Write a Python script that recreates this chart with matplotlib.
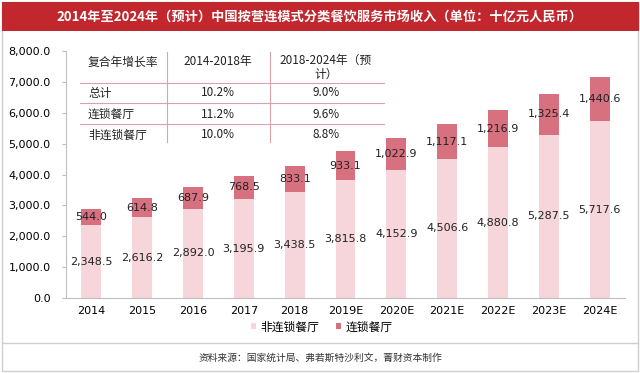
import matplotlib
matplotlib.use("Agg")
import matplotlib.pyplot as plt
from matplotlib.patches import Rectangle
from matplotlib.lines import Line2D

plt.rcParams['font.family'] = ['Noto Sans CJK SC', 'DejaVu Sans']

years = ['2014', '2015', '2016', '2017', '2018', '2019E', '2020E', '2021E', '2022E', '2023E', '2024E']
non_chain = [2348.5, 2616.2, 2892.0, 3195.9, 3438.5, 3815.8, 4152.9, 4506.6, 4880.8, 5287.5, 5717.6]
chain = [544.0, 614.8, 687.9, 768.5, 833.1, 933.1, 1022.9, 1117.1, 1216.9, 1325.4, 1440.6]
series_names = ['非连锁餐厅', '连锁餐厅']
yticks = [0, 1000, 2000, 3000, 4000, 5000, 6000, 7000, 8000]

title = '2014年至2024年（预计）中国按营连模式分类餐饮服务市场收入（单位：十亿元人民币）'
source = '资料来源：国家统计局、弗若斯特沙利文，菁财资本制作'

table_header = ['复合年增长率', '2014-2018年', '2018-2024年（预\n计）']
table_rows = [['总计', '10.2%', '9.0%'],
              ['连锁餐厅', '11.2%', '9.6%'],
              ['非连锁餐厅', '10.0%', '8.8%']]

c_light = '#F6D5DB'
c_dark = '#D7707F'
c_title = '#C1272D'
num_font = 'DejaVu Sans'

W, H = 640, 373
fig = plt.figure(figsize=(6.4, 3.73), dpi=100)

def fx(x): return x / W
def fy(y): return 1 - y / H

# border and banner
fig.patches.append(Rectangle((fx(2), fy(371)), fx(636), 369 / H, transform=fig.transFigure,
                             fill=False, edgecolor='#CFCFCF', linewidth=1.0))
fig.patches.append(Rectangle((fx(1.5), fy(31)), fx(637), 29 / H, transform=fig.transFigure,
                             facecolor=c_title, edgecolor='none'))
fig.text(0.5, fy(16.5), title, color='white', ha='center', va='center', fontsize=9.5, fontweight='bold')
fig.lines.append(Line2D([fx(2), fx(638)], [fy(343), fy(343)], transform=fig.transFigure,
                        color='#CFCFCF', linewidth=1.0))
fig.text(0.5, fy(358), source, ha='center', va='center', fontsize=7, color='#333333')

ax = fig.add_axes([fx(66), fy(298), fx(559), (298 - 51) / H])
x = list(range(len(years)))
bw = 0.39
ax.bar(x, non_chain, width=bw, color=c_light, label=series_names[0])
ax.bar(x, chain, width=bw, bottom=non_chain, color=c_dark, label=series_names[1])
for i in x:
    ax.text(i, non_chain[i] / 2, f'{non_chain[i]:,.1f}', ha='center', va='center', fontsize=8,
            color='#222222', family=num_font)
    ax.text(i, non_chain[i] + chain[i] / 2, f'{chain[i]:,.1f}', ha='center', va='center', fontsize=8,
            color='#222222', family=num_font)

ax.set_xlim(-0.5, 10.5)
ax.set_ylim(0, 8000)
ax.set_yticks(yticks)
ax.set_yticklabels([f'{v:,.1f}' for v in yticks], fontsize=8, family=num_font)
ax.set_xticks(x)
ax.set_xticklabels(years, fontsize=8, family=num_font)
for s in ['top', 'right']:
    ax.spines[s].set_visible(False)
ax.spines['left'].set_color('#BFBFBF')
ax.spines['bottom'].set_color('#BFBFBF')
ax.tick_params(axis='y', length=3, color='#BFBFBF', pad=8)
ax.tick_params(axis='x', length=0, pad=6)

# legend
leg = fig.legend(loc='center', bbox_to_anchor=(fx(322), fy(327)), ncol=2, frameon=False,
                 fontsize=8.5, handlelength=0.4, handleheight=0.4, handletextpad=0.4, columnspacing=1.4)

# CAGR table
line_c = '#D9A3AB'
for yy in [83, 103, 124]:
    fig.lines.append(Line2D([fx(80), fx(384)], [fy(yy), fy(yy)], transform=fig.transFigure, color=line_c, linewidth=0.8))
for xx in [167, 270]:
    fig.lines.append(Line2D([fx(xx), fx(xx)], [fy(52), fy(142)], transform=fig.transFigure, color=line_c, linewidth=0.8))
col_x = [88, 218, 326]
row_y = [93, 114, 135]
fig.text(fx(col_x[0]), fy(62), table_header[0], ha='left', va='center', fontsize=8.5, color='#222222')
fig.text(fx(col_x[1]), fy(62), table_header[1], ha='center', va='center', fontsize=8.5, color='#222222')
fig.text(fx(col_x[2]), fy(67), table_header[2], ha='center', va='center', fontsize=8.5, color='#222222', linespacing=1.1)
for r, yy in zip(table_rows, row_y):
    fig.text(fx(col_x[0]), fy(yy), r[0], ha='left', va='center', fontsize=8.5, color='#222222')
    fig.text(fx(col_x[1]), fy(yy), r[1], ha='center', va='center', fontsize=8.5, color='#222222')
    fig.text(fx(col_x[2]), fy(yy), r[2], ha='center', va='center', fontsize=8.5, color='#222222')

fig.savefig('out.png', dpi=100)
